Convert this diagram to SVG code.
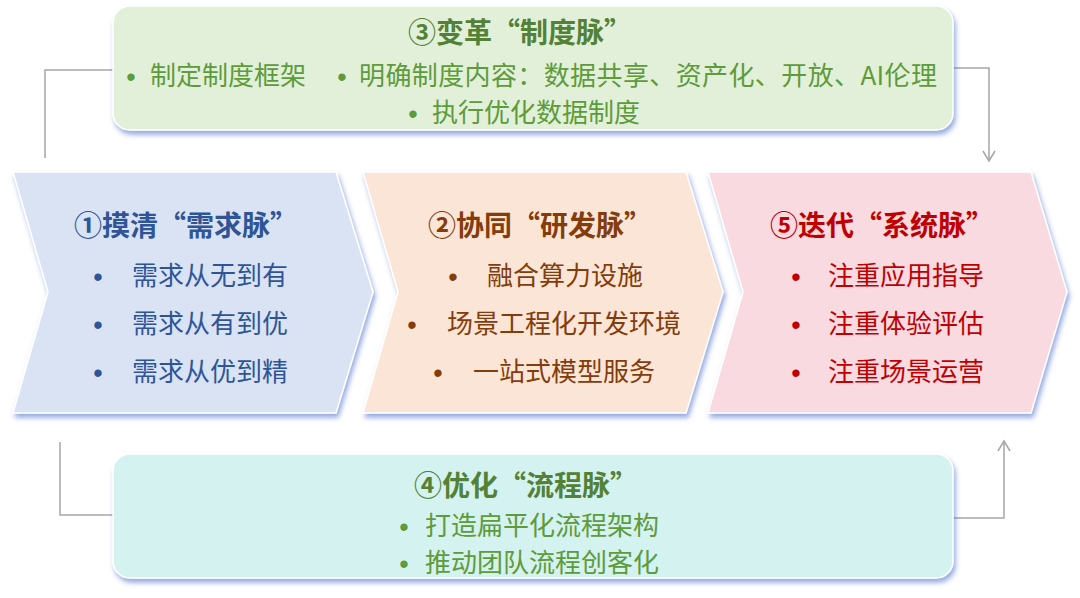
<svg xmlns="http://www.w3.org/2000/svg" width="1080" height="598" viewBox="0 0 1080 598">
<style>
  text { font-family: "Noto Sans CJK SC", "Noto Sans", sans-serif; }
  .t { font-size: 28px; font-weight: 700; }
  .b { font-size: 26px; }
  .dot { font-family: "Liberation Sans", sans-serif; font-size: 27px; text-anchor: middle; }
  .green { fill: #5E9B3B; }
  .greenT { fill: #538135; }
  .blue { fill: #2F5597; }
  .brown { fill: #843C0C; }
  .red { fill: #C00000; }
  .shape { stroke: #FFFFFF; stroke-width: 1.5; filter: url(#sh); }
  .conn { fill: none; stroke: #A6A6A6; stroke-width: 1.5; }
</style>
<defs>
  <filter id="sh" x="-10%" y="-10%" width="120%" height="130%">
    <feDropShadow dx="2" dy="4" stdDeviation="2.5" flood-color="#4068C8" flood-opacity="0.55"/>
  </filter>
  <marker id="arr" markerWidth="14" markerHeight="14" refX="11" refY="7" orient="auto" markerUnits="userSpaceOnUse">
    <path d="M1,1 L11,7 L1,13" fill="none" stroke="#A6A6A6" stroke-width="1.5"/>
  </marker>
</defs>
<rect width="1080" height="598" fill="#FFFFFF"/>

<g id="connectors">
  <polyline class="conn" points="113,70 45,70 45,158"/>
  <polyline class="conn" points="953,68 989,68 989,161" marker-end="url(#arr)"/>
  <polyline class="conn" points="113,515 60,515 60,442"/>
  <polyline class="conn" points="953,518 1004,518 1004,441" marker-end="url(#arr)"/>
</g>

<g id="node-zhidu">
  <rect class="shape" x="113" y="6" width="840" height="124" rx="17" fill="#E2F0D9"/>
  <text class="t greenT" x="520" y="43" text-anchor="middle">③变革“制度脉”</text>
  <text class="dot green" x="131" y="86">•</text>
  <text class="b green" x="150" y="85">制定制度框架</text>
  <text class="dot green" x="342" y="86">•</text>
  <text class="b green" x="359" y="85" textLength="578" lengthAdjust="spacing">明确制度内容：数据共享、资产化、开放、AI伦理</text>
  <text class="dot green" x="413" y="123">•</text>
  <text class="b green" x="432" y="122">执行优化数据制度</text>
</g>

<g id="node-xuqiu">
  <polygon class="shape" points="13,172 336,172 373,292 336,413 13,413 48,292" fill="#DAE3F3"/>
  <text class="t blue" x="186" y="236" text-anchor="middle">①摸清“需求脉”</text>
  <text class="dot blue" x="98" y="286">•</text>
  <text class="b blue" x="132" y="285">需求从无到有</text>
  <text class="dot blue" x="98" y="334">•</text>
  <text class="b blue" x="132" y="333">需求从有到优</text>
  <text class="dot blue" x="98" y="382">•</text>
  <text class="b blue" x="132" y="381">需求从优到精</text>
</g>

<g id="node-yanfa">
  <polygon class="shape" points="363,172 686,172 723,292 686,413 363,413 398,292" fill="#FBE5D6"/>
  <text class="t brown" x="540" y="236" text-anchor="middle">②协同“研发脉”</text>
  <text class="dot brown" x="453" y="286">•</text>
  <text class="b brown" x="487" y="285">融合算力设施</text>
  <text class="dot brown" x="412" y="334">•</text>
  <text class="b brown" x="447" y="333">场景工程化开发环境</text>
  <text class="dot brown" x="438" y="382">•</text>
  <text class="b brown" x="473" y="381">一站式模型服务</text>
</g>

<g id="node-xitong">
  <polygon class="shape" points="708,172 1031,172 1067,292 1031,413 708,413 743,292" fill="#F8DAE0"/>
  <text class="t red" x="882" y="236" text-anchor="middle">⑤迭代“系统脉”</text>
  <text class="dot red" x="796" y="286">•</text>
  <text class="b red" x="828" y="285">注重应用指导</text>
  <text class="dot red" x="796" y="334">•</text>
  <text class="b red" x="828" y="333">注重体验评估</text>
  <text class="dot red" x="796" y="382">•</text>
  <text class="b red" x="828" y="381">注重场景运营</text>
</g>

<g id="node-liucheng">
  <rect class="shape" x="113" y="454" width="840" height="124" rx="17" fill="#D4F2EF"/>
  <text class="t greenT" x="526" y="496" text-anchor="middle">④优化“流程脉”</text>
  <text class="dot green" x="404" y="536">•</text>
  <text class="b green" x="425" y="535">打造扁平化流程架构</text>
  <text class="dot green" x="404" y="573">•</text>
  <text class="b green" x="425" y="572">推动团队流程创客化</text>
</g>
</svg>
